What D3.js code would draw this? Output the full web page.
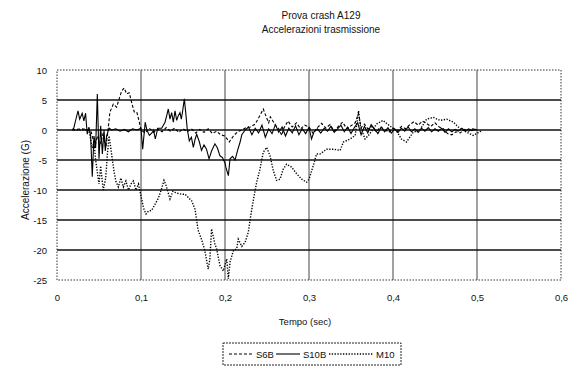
<!DOCTYPE html>
<html>
<head>
<meta charset="utf-8">
<script src="https://cdn.jsdelivr.net/npm/d3@7/dist/d3.min.js"></script>
<style>
	body { margin: 0; background: #fff; }
	svg text { font-family: "Liberation Sans Narrow", "Liberation Sans", Arial, sans-serif; fill: #111; }
</style>
</head>
<body>
<svg id="graphContainer" width="574" height="368"></svg>
<script>
var titleLines = ['Prova crash A129', 'Accelerazioni trasmissione'];
var xLabel = 'Tempo (sec)';
var yLabel = 'Accelerazione (G)';

var xTicks = [0, 0.1, 0.2, 0.3, 0.4, 0.5, 0.6];
var xTickLabels = ['0', '0,1', '0,2', '0,3', '0,4', '0,5', '0,6'];
var yTicks = [10, 5, 0, -5, -10, -15, -20, -25];
var yTickLabels = ['10', '5', '0', '-5', '-10', '-15', '-20', '-25'];

var seriesNames = ['S6B', 'S10B', 'M10'];

// [tempo, accelerazione]
var s6b = [
	[0.018, 0], [0.03, 0.2], [0.04, 0], [0.042, -1], [0.045, -3], [0.048, -1], [0.052, -2.2],
	[0.055, -0.5], [0.058, -3], [0.06, -1], [0.063, 3], [0.067, 4.3], [0.071, 3.8], [0.074, 5.2],
	[0.077, 6.5], [0.08, 7], [0.083, 6], [0.086, 6.2], [0.089, 4.5], [0.092, 3], [0.095, 3],
	[0.098, 1.3], [0.1, 0], [0.105, -0.5], [0.11, 0.3], [0.115, -0.4], [0.12, 0.2], [0.125, -0.3],
	[0.13, 0.4], [0.135, -0.2], [0.14, 0.3], [0.145, -0.4], [0.15, 0.2], [0.155, -0.3], [0.16, 0.2],
	[0.165, -0.5], [0.17, 0.1], [0.175, -0.4], [0.18, 0.2], [0.185, -0.6], [0.19, -0.2], [0.195, -0.8],
	[0.2, -1], [0.205, -2], [0.21, -1], [0.215, -0.3], [0.22, 0], [0.225, 0.4], [0.23, 0.5],
	[0.236, 1], [0.24, 2], [0.2456, 3.5], [0.249, 2.2], [0.252, 1.2], [0.254, 2.2], [0.257, 1.5],
	[0.26, 0.8], [0.264, 0.2], [0.2675, -0.9], [0.27, 0.3], [0.275, 1.5], [0.28, 0.5], [0.285, 1.2],
	[0.29, 0.2], [0.295, 0.8], [0.3, 0.5], [0.305, -0.6], [0.31, 0.4], [0.315, 1.1], [0.32, 0.3],
	[0.325, 0.9], [0.33, -0.2], [0.335, 0.6], [0.34, 1.3], [0.345, 0.2], [0.35, 0.7], [0.355, 1.2],
	[0.359, 2.8], [0.362, 0.4], [0.366, 1], [0.37, 0.2], [0.375, 0.6], [0.38, -0.3], [0.385, 0.5],
	[0.39, 0.1], [0.395, -0.4], [0.4, 0.3], [0.405, -0.2], [0.41, 0.6], [0.415, 0.2], [0.42, 0.9],
	[0.425, 1.4], [0.43, 0.8], [0.435, 1.5], [0.44, 1.1], [0.445, 0.6], [0.45, 1.2], [0.455, 0.5],
	[0.46, 0.2], [0.465, -0.6], [0.47, -0.8], [0.475, -0.3], [0.48, -0.5], [0.485, 0.1], [0.49, -0.2],
	[0.495, 0.2], [0.5, 0]
];

var s10b = [
	[0.018, 0], [0.02, 0.3], [0.022, 1.5], [0.025, 3.2], [0.027, 1.8], [0.03, 2.8], [0.032, 1.5],
	[0.034, 2.8], [0.036, -0.7], [0.038, 0.5], [0.04, -0.9], [0.042, -7.8], [0.044, -1], [0.046, -3],
	[0.048, 6], [0.05, -4.8], [0.052, 0.7], [0.054, -4], [0.056, 0], [0.0575, -3.5], [0.059, -1],
	[0.062, 0.3], [0.065, 0], [0.07, 0.2], [0.075, -0.2], [0.08, 0.1], [0.085, -0.3], [0.09, 0.2],
	[0.095, 0], [0.1, 0.3], [0.102, -3.2], [0.105, 1.3], [0.107, 0], [0.11, -0.9], [0.113, -0.5],
	[0.115, 0], [0.117, -1.5], [0.12, 0.3], [0.1246, 0.3], [0.1286, 1.3], [0.1306, 2.4], [0.1325, 3.5],
	[0.1345, 1.8], [0.1365, 2.9], [0.1385, 1.3], [0.1405, 3.2], [0.1425, 1.6], [0.1444, 2.4],
	[0.1464, 2.9], [0.148, 1.8], [0.1496, 3.2], [0.1516, 5.2], [0.1536, 2.4], [0.155, 0.2],
	[0.1575, -1.8], [0.16, -1.2], [0.1623, -2.9], [0.1645, -1.5], [0.1663, -0.7], [0.1695, -2],
	[0.172, -3.4], [0.175, -2.5], [0.178, -3.2], [0.181, -4.8], [0.184, -3.5], [0.188, -2.3],
	[0.191, -3], [0.194, -4.3], [0.197, -4.6], [0.2, -5.5], [0.201, -6.2], [0.204, -7.6],
	[0.206, -4.8], [0.209, -4.4], [0.212, -5], [0.215, -3.4], [0.218, -2], [0.22, -0.8], [0.224, 0],
	[0.228, 0.5], [0.232, -0.8], [0.236, 0.3], [0.24, -0.5], [0.244, 0.8], [0.248, -1.2], [0.252, 0.2],
	[0.256, -0.6], [0.26, 0.9], [0.264, -0.4], [0.268, 0.5], [0.272, -1], [0.276, 0.3], [0.28, -0.5],
	[0.284, 0.7], [0.288, -0.8], [0.292, 0.2], [0.296, -0.6], [0.3, 0.4], [0.303, -1.5], [0.306, -0.3],
	[0.31, 0.2], [0.314, -0.5], [0.318, 0.3], [0.322, -0.2], [0.326, 0.6], [0.33, -0.4], [0.334, 0.2],
	[0.338, 0.8], [0.342, -0.3], [0.346, 0.5], [0.35, -0.6], [0.354, 0.4], [0.358, 1.2], [0.362, -0.8],
	[0.366, 0.6], [0.37, -0.5], [0.374, 0.9], [0.378, 0.2], [0.382, -0.6], [0.386, 0.5], [0.39, -0.3],
	[0.394, 0.4], [0.398, -0.5], [0.402, 0.2], [0.406, -0.4], [0.41, 0.3], [0.414, -0.2], [0.418, 0.5],
	[0.422, -0.3], [0.426, 0.2], [0.43, -0.4], [0.434, 0.3], [0.438, -0.2], [0.442, 0.4], [0.446, -0.3],
	[0.45, 0.2], [0.454, -0.2], [0.458, 0.3], [0.462, -0.4], [0.466, 0.2], [0.47, -0.3], [0.474, 0.1],
	[0.478, -0.2], [0.482, 0.3], [0.486, -0.2], [0.49, 0.2], [0.494, -0.1], [0.498, 0.1], [0.5, 0]
];

var m10 = [
	[0.02, 0], [0.038, 0], [0.04, -1.5], [0.042, -3], [0.044, -2], [0.046, -5], [0.048, -7],
	[0.05, -9], [0.052, -6], [0.055, -10], [0.058, -8], [0.06, -4], [0.062, -1], [0.064, -3],
	[0.066, -5], [0.068, -7], [0.07, -8.5], [0.073, -9.5], [0.076, -8], [0.079, -9.5], [0.082, -8.5],
	[0.085, -10], [0.088, -9], [0.091, -8.5], [0.094, -10], [0.097, -9], [0.1, -11], [0.103, -13],
	[0.106, -14], [0.109, -13.5], [0.1127, -13.4], [0.115, -12.8], [0.1206, -11.4], [0.124, -10],
	[0.1274, -8.4], [0.13, -9.3], [0.1345, -11.5], [0.138, -10.2], [0.142, -10.5], [0.1484, -10.7],
	[0.1524, -10.7], [0.1603, -11.8], [0.1643, -13.2], [0.1663, -15.1], [0.168, -16.7], [0.172, -18.2],
	[0.176, -20.1], [0.18, -23.2], [0.182, -21.5], [0.184, -16.5], [0.188, -19], [0.19, -19.8],
	[0.194, -22.6], [0.198, -23.5], [0.202, -21.5], [0.204, -24.8], [0.206, -22], [0.21, -20.1],
	[0.214, -19.8], [0.2158, -18.2], [0.22, -19.4], [0.224, -18.7], [0.2278, -17], [0.23, -14.8],
	[0.234, -11.5], [0.2377, -8.7], [0.2417, -6.5], [0.2456, -3.7], [0.2496, -2.9], [0.2536, -4.3],
	[0.2575, -6.8], [0.2615, -8.4], [0.2655, -8.2], [0.2694, -6.5], [0.2734, -5.7], [0.2794, -6.2],
	[0.2853, -7.3], [0.2913, -8.2], [0.2972, -8.7], [0.3, -8.2], [0.3063, -5.4], [0.309, -4],
	[0.313, -4], [0.321, -3.2], [0.329, -3.2], [0.337, -3.4], [0.341, -2], [0.349, -1.5], [0.355, -0.9],
	[0.359, 3.2], [0.361, 0.7], [0.3667, -1.5], [0.372, -0.7], [0.3806, 1], [0.388, 1.6], [0.396, 0.7],
	[0.404, -0.1], [0.41, -1.5], [0.416, -2], [0.424, -0.4], [0.432, 0], [0.44, 1.8], [0.448, 2.1],
	[0.456, 1.6], [0.464, 1.8], [0.472, 1.3], [0.48, 0.2], [0.488, -0.4], [0.4956, -0.9], [0.5056, -0.1]
];

var seriesData = [s6b, s10b, m10];
var seriesDash = ['3,2', null, '1.3,1.5'];
var seriesWidth = [1.1, 1.1, 1.4];

var svg = d3.select('#graphContainer');

var xRange = d3.scaleLinear().domain([0, 0.6]).range([57, 561]);
var yRange = d3.scaleLinear().domain([-25, 10]).range([280, 70]);

// titolo
svg.selectAll('text.title')
	.data(titleLines)
	.enter()
	.append('text')
	.attr('class', 'title')
	.attr('x', 321)
	.attr('y', function(d, i) { return 19 + i * 14; })
	.attr('text-anchor', 'middle')
	.attr('font-size', 10)
	.text(function(d) { return d; });

// griglia verticale
svg.append('g')
	.selectAll('line')
	.data(xTicks.slice(1, -1))
	.enter()
	.append('line')
	.attr('x1', function(d) { return xRange(d); })
	.attr('x2', function(d) { return xRange(d); })
	.attr('y1', yRange(10))
	.attr('y2', yRange(-25))
	.attr('stroke', '#444')
	.attr('stroke-width', 1);

// griglia orizzontale
svg.append('g')
	.selectAll('line')
	.data(yTicks.slice(1, -1))
	.enter()
	.append('line')
	.attr('x1', xRange(0))
	.attr('x2', xRange(0.6))
	.attr('y1', function(d) { return yRange(d); })
	.attr('y2', function(d) { return yRange(d); })
	.attr('stroke', '#111')
	.attr('stroke-width', 1.3);

// bordo punteggiato
svg.append('rect')
	.attr('x', xRange(0))
	.attr('y', yRange(10))
	.attr('width', xRange(0.6) - xRange(0))
	.attr('height', yRange(-25) - yRange(10))
	.attr('fill', 'none')
	.attr('stroke', '#333')
	.attr('stroke-width', 1)
	.attr('stroke-dasharray', '1.5,1.5');

// assi
var xAxis = d3.axisBottom(xRange)
	.tickValues(xTicks)
	.tickSize(0)
	.tickPadding(0)
	.tickFormat(function(d, i) { return xTickLabels[i]; });

svg.append('g')
	.attr('transform', 'translate(0,' + 294 + ')')
	.call(xAxis)
	.call(function(g) { g.select('.domain').remove(); })
	.selectAll('text')
	.attr('font-size', 9.5)
	.attr('dy', '0.71em');

var yAxis = d3.axisLeft(yRange)
	.tickValues(yTicks)
	.tickSize(0)
	.tickPadding(0)
	.tickFormat(function(d, i) { return yTickLabels[i]; });

svg.append('g')
	.attr('transform', 'translate(' + 47 + ',0)')
	.call(yAxis)
	.call(function(g) { g.select('.domain').remove(); })
	.selectAll('text')
	.attr('font-size', 9.5);

svg.append('text')
	.attr('x', 305)
	.attr('y', 325)
	.attr('text-anchor', 'middle')
	.attr('font-size', 9.5)
	.text(xLabel);

svg.append('text')
	.attr('transform', 'translate(29,180) rotate(-90)')
	.attr('text-anchor', 'middle')
	.attr('font-size', 10)
	.text(yLabel);

// serie
var line = d3.line()
	.x(function(d) { return xRange(d[0]); })
	.y(function(d) { return yRange(d[1]); });

svg.append('g')
	.selectAll('path')
	.data(seriesData)
	.enter()
	.append('path')
	.attr('d', line)
	.attr('fill', 'none')
	.attr('stroke', '#000')
	.attr('stroke-width', function(d, i) { return seriesWidth[i]; })
	.attr('stroke-dasharray', function(d, i) { return seriesDash[i]; });

// legenda
var legend = svg.append('g').attr('transform', 'translate(223,343)');

legend.append('rect')
	.attr('width', 178)
	.attr('height', 22)
	.attr('fill', 'none')
	.attr('stroke', '#222')
	.attr('stroke-width', 1)
	.attr('stroke-dasharray', '2,1');

var legendX = [6, 53, 106];
var legendLen = [24, 24, 44];

var items = legend.selectAll('g.item')
	.data(seriesNames)
	.enter()
	.append('g')
	.attr('class', 'item')
	.attr('transform', function(d, i) { return 'translate(' + legendX[i] + ',11)'; });

items.append('line')
	.attr('x1', 0)
	.attr('x2', function(d, i) { return legendLen[i]; })
	.attr('stroke', '#000')
	.attr('stroke-width', function(d, i) { return seriesWidth[i]; })
	.attr('stroke-dasharray', function(d, i) { return seriesDash[i]; });

items.append('text')
	.attr('x', function(d, i) { return legendLen[i] + 3; })
	.attr('y', 3.5)
	.attr('font-size', 9.5)
	.text(function(d) { return d; });
</script>
</body>
</html>
